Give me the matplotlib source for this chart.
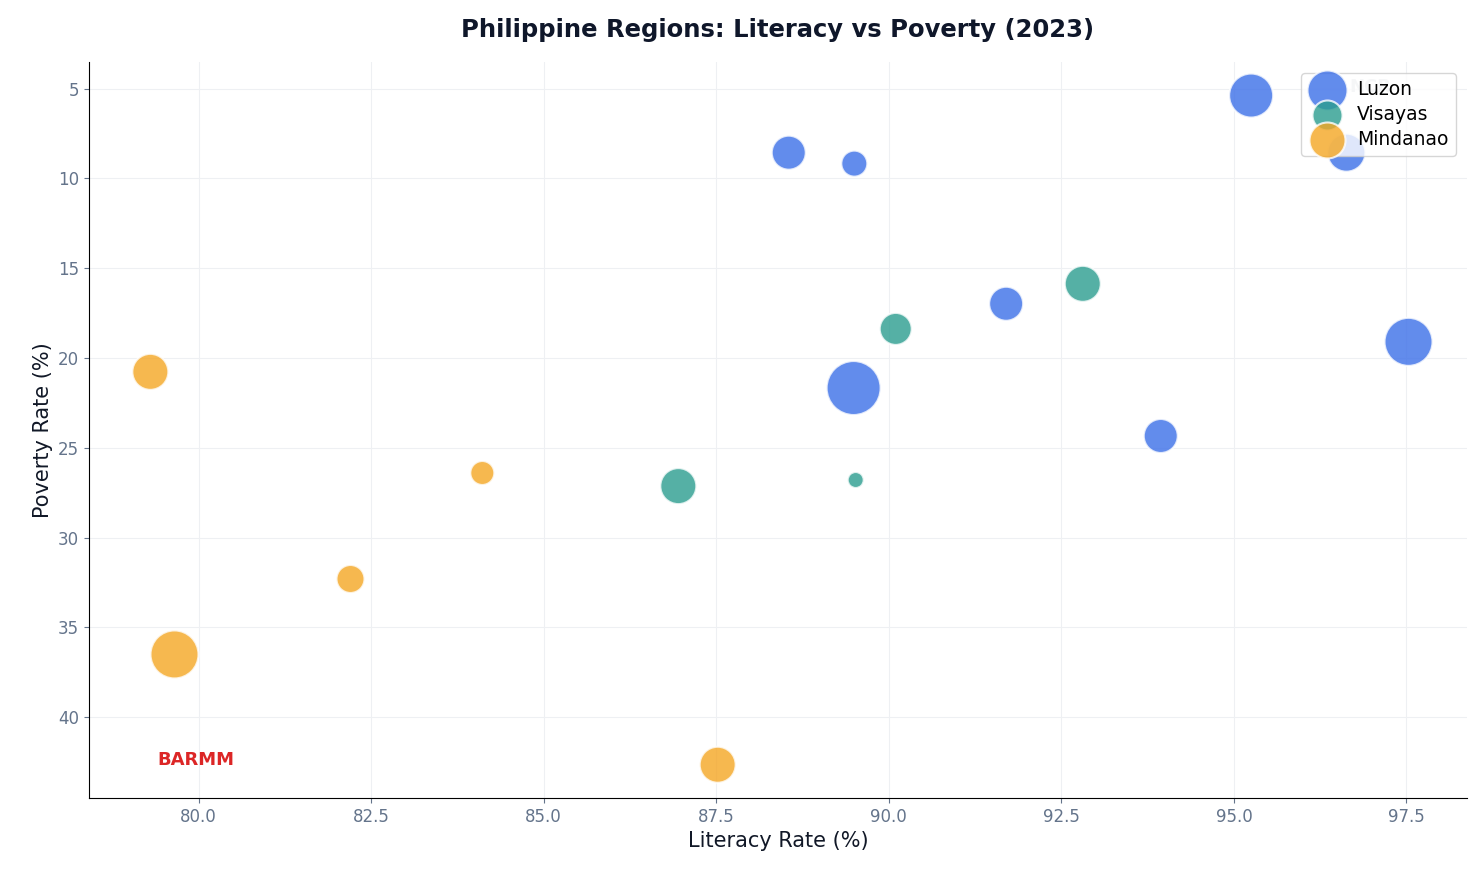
import matplotlib
matplotlib.use("Agg")
import matplotlib.pyplot as plt

luzon_x = [95.25, 96.63, 88.55, 89.50, 91.70, 97.53, 89.49, 93.94]
luzon_y = [5.39, 8.57, 8.57, 9.18, 16.98, 19.1, 21.67, 24.34]
luzon_r = [22, 19, 17, 13, 17, 24, 27, 17]
vis_x = [92.81, 90.10, 86.95, 89.52]
vis_y = [15.87, 18.38, 27.13, 26.79]
vis_r = [18, 16, 18, 8]
min_x = [79.30, 84.11, 82.20, 79.65, 87.52]
min_y = [20.77, 26.4, 32.3, 36.5, 42.64]
min_r = [18, 12, 14, 24, 18]

fig, ax = plt.subplots(figsize=(14.82, 8.8), dpi=100)
def s(r): return [(1.44*v)**2 for v in r]
for xs, ys, rs, c, lab in [(luzon_x, luzon_y, luzon_r, '#3b6fe8', 'Luzon'),
                           (vis_x, vis_y, vis_r, '#2a9d8f', 'Visayas'),
                           (min_x, min_y, min_r, '#f4a623', 'Mindanao')]:
    ax.scatter(xs, ys, s=s(rs), c=c, alpha=0.8, edgecolors='white', linewidths=1.5, label=lab, zorder=3)
ax.text(96.98, 4.9, 'NCR', fontsize=13, fontweight='bold', color='#d0d4da', ha='center', va='center', zorder=2)
ax.text(79.96, 42.4, 'BARMM', fontsize=13, fontweight='bold', color='#dc2626', ha='center', va='center')
ax.set_xlim(78.41, 98.38)
ax.set_ylim(44.5, 3.5)
ax.set_xticks([80, 82.5, 85, 87.5, 90, 92.5, 95, 97.5])
ax.set_yticks([5, 10, 15, 20, 25, 30, 35, 40])
ax.grid(True, color='#eef0f3', linewidth=0.8, zorder=0)
ax.set_axisbelow(True)
for sp in ['top', 'right']:
    ax.spines[sp].set_visible(False)
ax.tick_params(colors='#64748b', labelsize=12)
ax.set_xlabel('Literacy Rate (%)', fontsize=15, color='#111827')
ax.set_ylabel('Poverty Rate (%)', fontsize=15, color='#111827')
ax.set_title('Philippine Regions: Literacy vs Poverty (2023)', fontsize=17.5, fontweight='bold', color='#0f172a', pad=18)
leg = ax.legend(loc='upper right', fontsize=13.5, labelspacing=0.3, handletextpad=0.6, borderaxespad=0.6)
for h, r in zip(leg.legend_handles, [20, 15, 18]):
    h.set_sizes([(1.44*r)**2])
fig.subplots_adjust(left=0.06, right=0.99, top=0.93, bottom=0.093)
fig.savefig('out.png')
